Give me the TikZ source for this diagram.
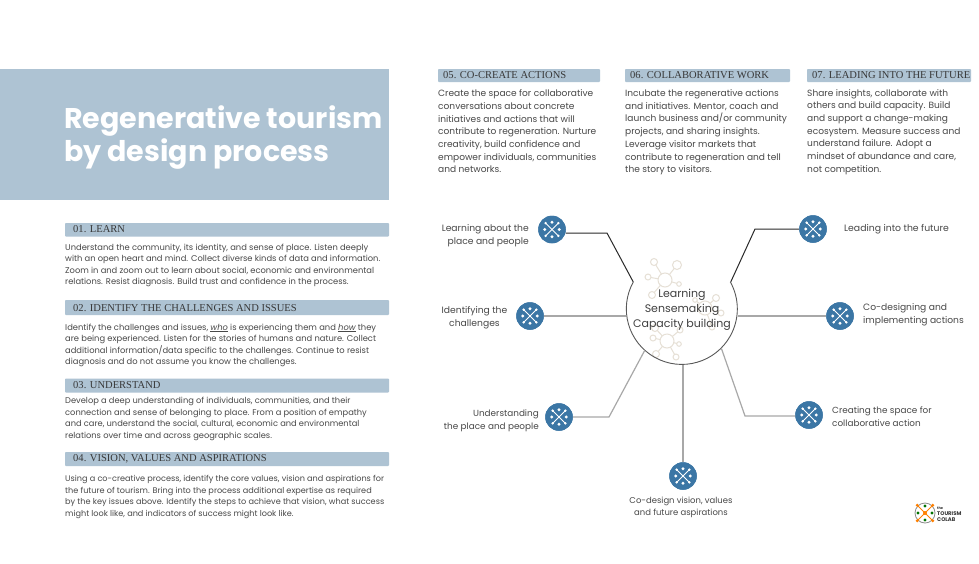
\documentclass[tikz,border=0pt]{standalone}
\usepackage{fontspec}
\setmainfont{Poppins}
\newfontfamily\headf{Liberation Serif}
\usetikzlibrary{calc}
\definecolor{band}{HTML}{AEC3D3}
\definecolor{bodyc}{HTML}{484848}
\definecolor{blueic}{HTML}{3B76A5}
\definecolor{beige}{HTML}{E6E0D6}
\definecolor{linegr}{HTML}{A8A8A8}
\definecolor{lined}{HTML}{2A2A2A}
\tikzset{
 x=1pt,y=-1pt,
 bandbox/.style={fill=band,draw=none,rounded corners=0.8pt},
 head/.style={anchor=west,inner sep=0pt,text=black!78,font=\headf\fontsize{10.55}{12}\selectfont},
 para/.style={anchor=north west,inner sep=0pt,align=left,text=bodyc,font=\fontsize{#1}{11.5}\selectfont},
 parar/.style={anchor=north west,inner sep=0pt,align=left,text=bodyc,font=\fontsize{9.05}{12.7}\selectfont},
 lab/.style={inner sep=0pt,text=bodyc,font=\fontsize{#1}{12.6}\selectfont},
 iconc/.style={circle,fill=blueic,draw=none,minimum size=27.5pt,inner sep=0pt},
 conn/.style={draw=linegr,line width=1.2pt},
 connd/.style={draw=lined,line width=1pt},
 net/.style={draw=beige,line width=1pt},
}
\newcommand{\glyph}[1]{%
 \foreach \a in {45,135,225,315}{\draw[white,line width=0.9pt] (#1.center) -- ++(\a:9);\fill[white] (#1.center) ++(\a:9) circle (1.3);}
 \foreach \a in {0,90,180,270}{\fill[white] (#1.center) ++(\a:7.2) circle (1.6);}
}
\newcommand{\netw}[3]{%
 \coordinate (nc) at (#1,#2);
 \draw[net] (nc) circle (7);
 \foreach \sx/\sy/\r in {#3}{
   \coordinate (ns) at (\sx,\sy);
   \draw[net] ($(nc)!7pt!(ns)$) -- ($(ns)!\r pt!(nc)$);
   \draw[net] (ns) circle (\r);}
}
\begin{document}
\begin{tikzpicture}
\useasboundingbox (0,0) rectangle (979,563);
\fill[white] (0,0) rectangle (979,563);
\fill[band] (0,69) rectangle (389,200);
\node[anchor=west,inner sep=0pt,text=white,font=\fontsize{28.5}{33}\selectfont\bfseries] (title) at (64,137.5) {\shortstack[l]{Regenerative tourism\\by design process}};
% left column
\fill[bandbox] (65,223) rectangle (389,236.5);
\fill[bandbox] (65,300) rectangle (389,315);
\fill[bandbox] (65,378.5) rectangle (389,392.5);
\fill[bandbox] (65,452) rectangle (389,466);
\node[head] (h1) at (73,229.5) {01. LEARN};
\node[head] (h2) at (73,308) {02. IDENTIFY THE CHALLENGES AND ISSUES};
\node[head] (h3) at (73,385.5) {03. UNDERSTAND};
\node[head] (h4) at (73,459) {04. VISION, VALUES AND ASPIRATIONS};
\node[para=8.33] (p1) at (65,243.5) {Understand the community, its identity, and sense of place. Listen deeply\\with an open heart and mind. Collect diverse kinds of data and information.\\Zoom in and zoom out to learn about social, economic and environmental\\relations. Resist diagnosis. Build trust and confidence in the process.};
\node[para=8.35] (p2) at (65,323.5) {Identify the challenges and issues, \underline{\itshape who} is experiencing them and \underline{\itshape how} they\\are being experienced. Listen for the stories of humans and nature. Collect\\additional information/data specific to the challenges. Continue to resist\\diagnosis and do not assume you know the challenges.};
\node[para=8.29] (p3) at (65,397) {Develop a deep understanding of individuals, communities, and their\\connection and sense of belonging to place. From a position of empathy\\and care, understand the social, cultural, economic and environmental\\relations over time and across geographic scales.};
\node[para=8.14] (p4) at (65,475.5) {Using a co-creative process, identify the core values, vision and aspirations for\\the future of tourism. Bring into the process additional expertise as required\\by the key issues above. Identify the steps to achieve that vision, what success\\might look like, and indicators of success might look like.};
% top right
\fill[bandbox] (438,69) rectangle (600,82);
\fill[bandbox] (625,69) rectangle (790,82);
\fill[bandbox] (807,69) rectangle (971,82);
\node[head] (h5) at (443,75.5) {05. CO-CREATE ACTIONS};
\node[head] (h6) at (630,75.5) {06. COLLABORATIVE WORK};
\node[head] (h7) at (812,75.5) {07. LEADING INTO THE FUTURE};
\node[parar] (p5) at (438,89.5) {Create the space for collaborative\\conversations about concrete\\initiatives and actions that will\\contribute to regeneration. Nurture\\creativity, build confidence and\\empower individuals, communities\\and networks.};
\node[parar] (p6) at (625,89.5) {Incubate the regenerative actions\\and initiatives. Mentor, coach and\\launch business and/or community\\projects, and sharing insights.\\Leverage visitor markets that\\contribute to regeneration and tell\\the story to visitors.};
\node[parar] (p7) at (807,89) {Share insights, collaborate with\\others and build capacity. Build\\and support a change-making\\ecosystem. Measure success and\\understand failure. Adopt a\\mindset of abundance and care,\\not competition.};
% hub
\netw{665}{280}{654/262/3.5,677/265/4.5,648/277/3,679/284/2.3,652/295/3.5}
\netw{705}{308}{716/298/3.5,712/327/3,695/300/2.3,721/313/3}
\netw{667}{341}{680/330/3,679/344/2.3,676/357/3,656/354/3.5,653/338/3,655/328/3.5}
\node[circle,minimum size=111pt,inner sep=0pt] (hub) at (682,309) {};
\node[inner sep=0pt,align=center,text=black!75,font=\fontsize{11}{15.2}\selectfont] (hubt) at (682,309.5) {Learning\\Sensemaking\\Capacity building};
\draw[draw=black!65,line width=0.9pt] (hub.151) arc[start angle=-151,end angle=-389,radius=55.5];
% icons
\node[iconc] (i1) at (552,229.5) {};
\node[iconc] (i2) at (530,316) {};
\node[iconc] (i3) at (559,417) {};
\node[iconc] (i4) at (683,476) {};
\node[iconc] (i5) at (809,415) {};
\node[iconc] (i6) at (840,316) {};
\node[iconc] (i7) at (813,229) {};
% connectors
\coordinate (c1) at (607,233); \coordinate (c3) at (609,417); \coordinate (c5) at (745,416); \coordinate (c7) at (755,229);
\draw[connd] (i1.east |- c1) -- (c1) -- (hub.151);
\draw[conn] (i2) -- (i2 -| hub.west);
\draw[conn] (i3) -- (c3) -- (hub.228);
\draw[conn] (i4 |- hub.south) -- (i4);
\draw[conn] (i5 |- c5) -- (c5) -- (hub.-45);
\draw[conn] (i6) -- (i6 -| hub.east);
\draw[connd] (i7) -- (c7) -- (hub.29);
\foreach \n in {i1,i2,i3,i4,i5,i6,i7}{\node[iconc] at (\n) {};\glyph{\n}}
% labels
\node[lab=9.2,align=right,anchor=east] (l1) at (529,235.5) {Learning about the\\place and people};
\node[lab=9.2,align=center] (l2) at (474.5,318) {Identifying the\\challenges};
\node[lab=8.85,align=right,anchor=east] (l3) at (539,421) {Understanding\\the place and people};
\node[lab=8.45,align=center] (l4) at (681,507.5) {Co-design vision, values\\and future aspirations};
\node[lab=8.85,align=left,anchor=west] (l5) at (832,416.5) {Creating the space for\\collaborative action};
\node[lab=9.3,anchor=west] (l6b) at (844,229) {Leading into the future};
\node[lab=9.15,align=left,anchor=west] (l7) at (863,315) {Co-designing and\\implementing actions};
% logo
\draw[black!45,line width=0.8pt] (925,513) circle (10);
\foreach \a in {45,135,225,315}{\draw[orange,line width=1pt] (925,513) -- ++(\a:11);\fill[orange] (925,513) ++(\a:11) circle (1.6);}
\fill[orange] (925,513) circle (2);
\foreach \a in {0,90,180,270}{\fill[green!45!black] (925,513) ++(\a:7) circle (1.6);}
\node[anchor=west,inner sep=0pt,align=left,text=black!80,font=\bfseries\fontsize{5.3}{6}\selectfont] (logo) at (937,514) {\fontsize{3.5}{4}\selectfont the\\TOURISM\\COLAB};
\end{tikzpicture}
\end{document}
